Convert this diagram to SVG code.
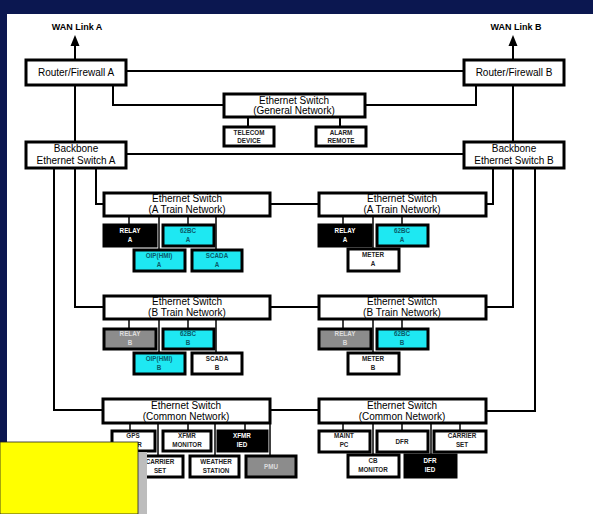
<svg xmlns="http://www.w3.org/2000/svg" width="593" height="514" viewBox="0 0 593 514">
<defs>
<style>
.bg{fill:#ffffff}
.frame{fill:#0b1750}
.big{fill:#fff;stroke:#000;stroke-width:3}
.sm{stroke:#000;stroke-width:3}
.w{fill:#fff}
.c{fill:#1ee8f2}
.k{fill:#000}
.g{fill:#8c8c8c}
.t{font-family:"Liberation Sans",Arial,sans-serif;font-size:10px;fill:#000;text-anchor:middle}
.h{font-family:"Liberation Sans",Arial,sans-serif;font-size:9px;font-weight:bold;fill:#000;text-anchor:middle}
.s{font-family:"Liberation Sans",Arial,sans-serif;font-size:6.3px;font-weight:bold;fill:#222;text-anchor:middle}
.sw{font-family:"Liberation Sans",Arial,sans-serif;font-size:6.3px;font-weight:bold;fill:#fff;text-anchor:middle}
.sc{font-family:"Liberation Sans",Arial,sans-serif;font-size:6.3px;font-weight:bold;fill:#0a5a6a;text-anchor:middle}
.sg{font-family:"Liberation Sans",Arial,sans-serif;font-size:6.3px;font-weight:bold;fill:#dcdcdc;text-anchor:middle}
.ln{fill:none;stroke:#000;stroke-width:2}
.ln1{fill:none;stroke:#000;stroke-width:1.5}
.ah{fill:#000}
</style>
</defs>
<rect class="bg" x="0" y="0" width="593" height="514"/>
<rect class="frame" x="0" y="0" width="593" height="14"/>
<rect class="frame" x="0" y="0" width="7" height="514"/>

<g id="connectors">
<line class="ln" x1="75" y1="59" x2="75" y2="44"/>
<polygon class="ah" points="75,35 79.5,46 70.5,46"/>
<line class="ln" x1="513" y1="59" x2="513" y2="44"/>
<polygon class="ah" points="513,35 517.5,46 508.5,46"/>
<line class="ln" x1="126" y1="71" x2="463" y2="71"/>
<polyline class="ln" points="113,85 113,105 223,105"/>
<polyline class="ln" points="476,85 476,105 365,105"/>
<line class="ln" x1="248" y1="117" x2="248" y2="126"/>
<line class="ln" x1="340" y1="117" x2="340" y2="126"/>
<line class="ln" x1="75" y1="85" x2="75" y2="141"/>
<line class="ln" x1="513" y1="85" x2="513" y2="141"/>
<line class="ln" x1="126" y1="154" x2="463" y2="154"/>
<polyline class="ln" points="96,168 96,204 103,204"/>
<polyline class="ln" points="75,168 75,307 103,307"/>
<polyline class="ln" points="54,168 54,410 103,410"/>
<polyline class="ln" points="493,168 493,204 486,204"/>
<polyline class="ln" points="513,168 513,307 486,307"/>
<polyline class="ln" points="535,168 535,411 486,411"/>
<line class="ln" x1="270" y1="204" x2="318" y2="204"/>
<line class="ln" x1="270" y1="307" x2="318" y2="307"/>
<line class="ln" x1="269" y1="410" x2="318" y2="410"/>
<!-- A train left -->
<line class="ln1" x1="129" y1="216" x2="129" y2="224"/>
<line class="ln1" x1="159" y1="216" x2="159" y2="249"/>
<line class="ln1" x1="188" y1="216" x2="188" y2="224"/>
<line class="ln1" x1="216" y1="216" x2="216" y2="249"/>
<!-- B train left -->
<line class="ln1" x1="129" y1="319" x2="129" y2="328"/>
<line class="ln1" x1="159" y1="319" x2="159" y2="352"/>
<line class="ln1" x1="188" y1="319" x2="188" y2="328"/>
<line class="ln1" x1="216" y1="319" x2="216" y2="352"/>
<!-- A train right -->
<line class="ln1" x1="343" y1="216" x2="343" y2="224"/>
<line class="ln1" x1="373" y1="216" x2="373" y2="248"/>
<line class="ln1" x1="402" y1="216" x2="402" y2="224"/>
<!-- B train right -->
<line class="ln1" x1="343" y1="319" x2="343" y2="328"/>
<line class="ln1" x1="373" y1="319" x2="373" y2="352"/>
<line class="ln1" x1="402" y1="319" x2="402" y2="328"/>
<!-- common left -->
<line class="ln1" x1="130" y1="423" x2="130" y2="430"/>
<line class="ln1" x1="158" y1="423" x2="158" y2="455"/>
<line class="ln1" x1="188" y1="423" x2="188" y2="430"/>
<line class="ln1" x1="215" y1="423" x2="215" y2="455"/>
<line class="ln1" x1="245" y1="423" x2="245" y2="430"/>
<line class="ln1" x1="270" y1="423" x2="270" y2="455"/>
<!-- common right -->
<line class="ln1" x1="343" y1="423" x2="343" y2="430"/>
<line class="ln1" x1="373" y1="423" x2="373" y2="454"/>
<line class="ln1" x1="402" y1="423" x2="402" y2="430"/>
<line class="ln1" x1="431" y1="423" x2="431" y2="454"/>
<line class="ln1" x1="460" y1="423" x2="460" y2="430"/>
</g>

<text class="h" x="77" y="30">WAN Link A</text>
<text class="h" x="516" y="30">WAN Link B</text>

<g id="router-a"><rect class="big" x="26" y="60" width="100" height="25"/><text class="t" x="76" y="76">Router/Firewall A</text></g>
<g id="router-b"><rect class="big" x="464" y="60" width="100" height="25"/><text class="t" x="514" y="76">Router/Firewall B</text></g>
<g id="switch-general"><rect class="big" x="224" y="94" width="141" height="23"/><text class="t" x="294" y="104">Ethernet Switch</text><text class="t" x="294" y="114">(General Network)</text></g>
<g id="telecom"><rect class="sm w" x="224" y="127" width="50" height="19"/><text class="s" x="249" y="134.5">TELECOM</text><text class="s" x="249" y="143">DEVICE</text></g>
<g id="alarm"><rect class="sm w" x="316" y="127" width="50" height="19"/><text class="s" x="341" y="134.5">ALARM</text><text class="s" x="341" y="143">REMOTE</text></g>
<g id="backbone-a"><rect class="big" x="26" y="142" width="100" height="26"/><text class="t" x="76" y="152">Backbone</text><text class="t" x="76" y="164">Ethernet Switch A</text></g>
<g id="backbone-b"><rect class="big" x="464" y="142" width="100" height="26"/><text class="t" x="514" y="152">Backbone</text><text class="t" x="514" y="164">Ethernet Switch B</text></g>

<g id="switch-a-left"><rect class="big" x="104" y="193" width="166" height="23"/><text class="t" x="187" y="202">Ethernet Switch</text><text class="t" x="187" y="213">(A Train Network)</text></g>
<g id="relay-a-left"><rect class="sm k" x="104" y="225" width="52" height="21"/><text class="sw" x="130" y="233">RELAY</text><text class="sw" x="130" y="242">A</text></g>
<g id="bc62-a-left"><rect class="sm c" x="163" y="225" width="51" height="21"/><text class="sc" x="188" y="233">62BC</text><text class="sc" x="188" y="242">A</text></g>
<g id="oip-a"><rect class="sm c" x="134" y="250" width="51" height="21"/><text class="sc" x="159" y="258">OIP(HMI)</text><text class="sc" x="159" y="267">A</text></g>
<g id="scada-a"><rect class="sm c" x="192" y="250" width="50" height="21"/><text class="sc" x="217" y="258">SCADA</text><text class="sc" x="217" y="267">A</text></g>

<g id="switch-a-right"><rect class="big" x="319" y="193" width="167" height="23"/><text class="t" x="402" y="202">Ethernet Switch</text><text class="t" x="402" y="213">(A Train Network)</text></g>
<g id="relay-a-right"><rect class="sm k" x="319" y="225" width="52" height="21"/><text class="sw" x="345" y="233">RELAY</text><text class="sw" x="345" y="242">A</text></g>
<g id="bc62-a-right"><rect class="sm c" x="377" y="225" width="51" height="21"/><text class="sc" x="402" y="233">62BC</text><text class="sc" x="402" y="242">A</text></g>
<g id="meter-a"><rect class="sm w" x="348" y="249" width="51" height="22"/><text class="s" x="373" y="257">METER</text><text class="s" x="373" y="266">A</text></g>

<g id="switch-b-left"><rect class="big" x="104" y="296" width="166" height="23"/><text class="t" x="187" y="305">Ethernet Switch</text><text class="t" x="187" y="316">(B Train Network)</text></g>
<g id="relay-b-left"><rect class="sm g" x="104" y="329" width="52" height="20"/><text class="sg" x="130" y="336">RELAY</text><text class="sg" x="130" y="345">B</text></g>
<g id="bc62-b-left"><rect class="sm c" x="163" y="329" width="51" height="20"/><text class="sc" x="188" y="336">62BC</text><text class="sc" x="188" y="345">B</text></g>
<g id="oip-b"><rect class="sm c" x="134" y="353" width="51" height="21"/><text class="sc" x="159" y="361">OIP(HMI)</text><text class="sc" x="159" y="370">B</text></g>
<g id="scada-b"><rect class="sm w" x="192" y="353" width="50" height="21"/><text class="s" x="217" y="361">SCADA</text><text class="s" x="217" y="370">B</text></g>

<g id="switch-b-right"><rect class="big" x="319" y="296" width="167" height="23"/><text class="t" x="402" y="305">Ethernet Switch</text><text class="t" x="402" y="316">(B Train Network)</text></g>
<g id="relay-b-right"><rect class="sm g" x="319" y="329" width="52" height="20"/><text class="sg" x="345" y="336">RELAY</text><text class="sg" x="345" y="345">B</text></g>
<g id="bc62-b-right"><rect class="sm c" x="377" y="329" width="51" height="20"/><text class="sc" x="402" y="336">62BC</text><text class="sc" x="402" y="345">B</text></g>
<g id="meter-b"><rect class="sm w" x="348" y="353" width="51" height="21"/><text class="s" x="373" y="361">METER</text><text class="s" x="373" y="370">B</text></g>

<g id="switch-common-left"><rect class="big" x="103" y="399" width="167" height="24"/><text class="t" x="186" y="409">Ethernet Switch</text><text class="t" x="186" y="420">(Common Network)</text></g>
<g id="gps"><rect class="sm w" x="112" y="431" width="43" height="20"/><text class="s" x="133" y="438">GPS</text><text class="s" x="133" y="447">RCVR</text></g>
<g id="xfmr-monitor"><rect class="sm w" x="163" y="431" width="48" height="20"/><text class="s" x="187" y="438">XFMR</text><text class="s" x="187" y="447">MONITOR</text></g>
<g id="xfmr-ied"><rect class="sm k" x="218" y="431" width="49" height="20"/><text class="sw" x="242" y="438">XFMR</text><text class="sw" x="242" y="447">IED</text></g>
<g id="carrier-left"><rect class="sm w" x="130" y="456" width="53" height="21"/><text class="s" x="160" y="464">CARRIER</text><text class="s" x="160" y="473">SET</text></g>
<g id="weather"><rect class="sm w" x="190" y="456" width="49" height="21"/><text class="s" x="216" y="464">WEATHER</text><text class="s" x="216" y="473">STATION</text></g>
<g id="pmu"><rect class="sm g" x="246" y="456" width="50" height="21"/><text class="sg" x="271" y="469">PMU</text></g>

<g id="switch-common-right"><rect class="big" x="319" y="399" width="167" height="24"/><text class="t" x="402" y="409">Ethernet Switch</text><text class="t" x="402" y="420">(Common Network)</text></g>
<g id="maint-pc"><rect class="sm w" x="319" y="431" width="51" height="21"/><text class="s" x="344" y="438">MAINT</text><text class="s" x="344" y="447">PC</text></g>
<g id="dfr"><rect class="sm w" x="377" y="431" width="51" height="21"/><text class="s" x="402" y="444">DFR</text></g>
<g id="carrier-right"><rect class="sm w" x="434" y="431" width="52" height="21"/><text class="s" x="462" y="438">CARRIER</text><text class="s" x="462" y="447">SET</text></g>
<g id="cb-monitor"><rect class="sm w" x="348" y="455" width="51" height="22"/><text class="s" x="373" y="463">CB</text><text class="s" x="373" y="472">MONITOR</text></g>
<g id="dfr-ied"><rect class="sm k" x="405" y="455" width="51" height="22"/><text class="sw" x="430" y="463">DFR</text><text class="sw" x="430" y="472">IED</text></g>

<rect x="138" y="452" width="9" height="62" fill="#bdbdbd"/>
<rect x="0" y="442" width="138" height="72" fill="#ffff00" stroke="#222" stroke-width="0.8"/>
</svg>
